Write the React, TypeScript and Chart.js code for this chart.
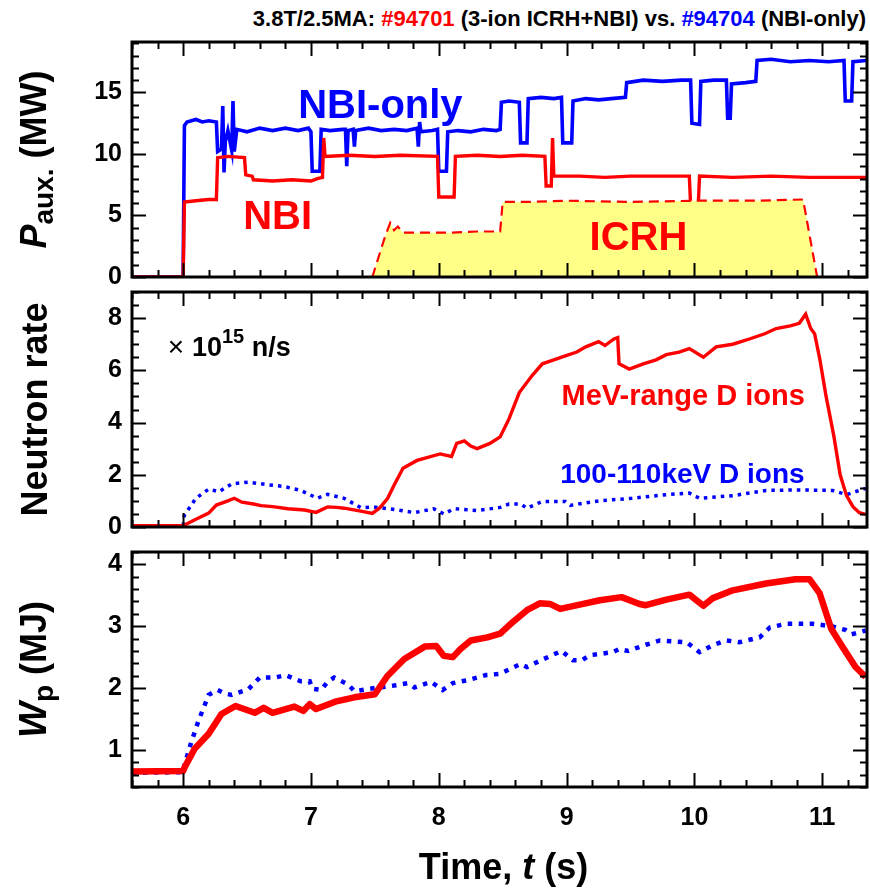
import React, { useEffect, useRef } from 'react';
import { Chart, registerables } from 'chart.js';

Chart.register(...registerables);

const FONT = '"Liberation Sans", Arial, Helvetica, sans-serif';
const RED = '#ff0000';
const BLUE = '#0000ff';
const YELLOW = '#ffff88';

const T_MIN = 5.6;
const T_MAX = 11.35;
const timeTickLabels = [6, 7, 8, 9, 10, 11];

// ---------- Top panel: auxiliary power (MW) ----------
const pauxTickLabels = [0, 5, 10, 15];
const nbiOnlyT = [5.6, 6.0, 6.01, 6.03, 6.1, 6.15, 6.2, 6.26, 6.27, 6.3, 6.31, 6.32, 6.33, 6.35, 6.38, 6.39, 6.4, 6.42, 6.5, 6.6, 6.7, 6.8, 6.9, 6.98, 7.0, 7.01, 7.07, 7.08, 7.15, 7.25, 7.27, 7.28, 7.29, 7.33, 7.34, 7.35, 7.45, 7.55, 7.65, 7.75, 7.83, 7.84, 7.85, 7.86, 7.95, 7.99, 8.0, 8.06, 8.07, 8.15, 8.25, 8.35, 8.45, 8.48, 8.49, 8.55, 8.63, 8.64, 8.69, 8.7, 8.8, 8.9, 8.96, 8.97, 9.04, 9.05, 9.15, 9.25, 9.35, 9.46, 9.47, 9.6, 9.75, 9.9, 9.97, 9.98, 10.04, 10.05, 10.15, 10.25, 10.26, 10.28, 10.29, 10.4, 10.48, 10.49, 10.6, 10.75, 10.9, 11.05, 11.17, 11.18, 11.23, 11.24, 11.35];
const nbiOnlyP = [0, 0, 12.3, 12.6, 12.8, 12.6, 12.7, 12.6, 10.2, 10.4, 13.9, 8.5, 11.0, 11.9, 10.3, 14.3, 10.2, 12.0, 11.8, 12.1, 11.9, 12.1, 11.9, 12.1, 11.8, 8.6, 8.6, 12.0, 11.9, 12.0, 12.0, 9.0, 11.9, 12.0, 10.6, 11.9, 12.1, 11.9, 12.0, 11.9, 12.1, 10.6, 12.6, 11.8, 11.9, 12.0, 8.6, 8.6, 11.8, 11.9, 11.8, 12.0, 11.9, 12.0, 14.2, 14.3, 14.2, 10.9, 10.9, 14.5, 14.6, 14.5, 14.6, 10.9, 10.9, 14.3, 14.5, 14.4, 14.5, 14.6, 15.8, 16.0, 15.9, 16.0, 16.0, 12.5, 12.4, 15.9, 16.0, 16.0, 12.9, 12.9, 15.7, 15.8, 15.9, 17.6, 17.7, 17.5, 17.6, 17.5, 17.6, 14.3, 14.3, 17.5, 17.6];

const nbiT = [5.6, 6.0, 6.01, 6.1, 6.2, 6.26, 6.27, 6.35, 6.48, 6.49, 6.54, 6.55, 6.7, 6.85, 7.0, 7.05, 7.09, 7.1, 7.11, 7.3, 7.5, 7.7, 7.99, 8.0, 8.12, 8.13, 8.3, 8.48, 8.65, 8.83, 8.84, 8.88, 8.89, 8.9, 9.1, 9.3, 9.5, 9.7, 9.96, 9.97, 10.03, 10.04, 10.3, 10.6, 10.9, 11.35];
const nbiP = [0, 0, 6.1, 6.2, 6.3, 6.3, 9.7, 9.8, 9.7, 8.3, 8.2, 7.9, 7.8, 7.9, 7.8, 8.0, 8.1, 11.3, 9.8, 9.9, 9.8, 9.9, 9.8, 6.5, 6.5, 9.8, 9.9, 9.8, 9.9, 9.8, 7.4, 7.4, 11.3, 8.2, 8.2, 8.1, 8.2, 8.2, 8.2, 5.9, 5.9, 8.2, 8.1, 8.2, 8.1, 8.1];

const icrhT = [5.6, 7.48, 7.58, 7.62, 7.65, 7.68, 7.72, 7.9, 8.1, 8.3, 8.48, 8.5, 8.7, 9.0, 9.5, 10.0, 10.5, 10.85, 10.96, 11.35];
const icrhP = [0, 0, 3.3, 4.4, 3.8, 4.1, 3.6, 3.6, 3.6, 3.7, 3.7, 6.1, 6.1, 6.2, 6.1, 6.2, 6.2, 6.3, 0, 0];

// ---------- Middle panel: neutron rate (1e15 n/s) ----------
const neutronTickLabels = [0, 2, 4, 6, 8];
const mevT = [5.6, 6.0, 6.1, 6.2, 6.26, 6.35, 6.4, 6.46, 6.55, 6.61, 6.7, 6.82, 6.95, 7.04, 7.13, 7.2, 7.26, 7.4, 7.48, 7.54, 7.6, 7.65, 7.72, 7.83, 7.9, 8.01, 8.1, 8.14, 8.2, 8.25, 8.3, 8.4, 8.48, 8.55, 8.63, 8.73, 8.81, 8.9, 8.99, 9.08, 9.15, 9.25, 9.3, 9.37, 9.4, 9.41, 9.49, 9.6, 9.7, 9.78, 9.88, 9.96, 10.07, 10.17, 10.3, 10.43, 10.55, 10.64, 10.75, 10.82, 10.87, 10.91, 10.94, 10.98, 11.03, 11.09, 11.14, 11.19, 11.24, 11.29, 11.34];
const mevN = [0.05, 0.05, 0.3, 0.53, 0.84, 1.0, 1.1, 0.95, 0.88, 0.82, 0.78, 0.7, 0.65, 0.56, 0.77, 0.75, 0.72, 0.6, 0.52, 0.74, 1.1, 1.6, 2.25, 2.55, 2.65, 2.8, 2.7, 3.2, 3.3, 3.1, 3.0, 3.2, 3.45, 4.15, 5.15, 5.8, 6.25, 6.4, 6.55, 6.7, 6.9, 7.1, 6.95, 7.2, 7.25, 6.25, 6.05, 6.25, 6.4, 6.6, 6.7, 6.83, 6.5, 6.9, 7.0, 7.2, 7.4, 7.6, 7.7, 7.8, 8.15, 7.6, 7.4, 6.45, 5.0, 3.5, 2.0, 1.2, 0.78, 0.55, 0.48];

const kevT = [5.6, 6.0, 6.01, 6.1, 6.2, 6.28, 6.38, 6.51, 6.66, 6.79, 6.92, 7.05, 7.13, 7.26, 7.39, 7.49, 7.65, 7.81, 7.96, 8.04, 8.12, 8.3, 8.48, 8.55, 8.64, 8.69, 8.81, 8.99, 9.03, 9.25, 9.51, 9.78, 9.96, 10.04, 10.3, 10.56, 10.82, 11.08, 11.19, 11.34];
const kevN = [0.05, 0.05, 0.45, 1.1, 1.45, 1.35, 1.65, 1.72, 1.62, 1.55, 1.4, 1.1, 1.25, 1.1, 0.74, 0.77, 0.67, 0.55, 0.7, 0.5, 0.7, 0.63, 0.75, 0.88, 0.88, 0.72, 0.98, 0.98, 0.83, 1.0, 1.1, 1.24, 1.3, 1.1, 1.2, 1.4, 1.42, 1.4, 1.24, 1.48];

// ---------- Bottom panel: stored energy Wp (MJ) ----------
const wpTickLabels = [1, 2, 3, 4];
const wp3ionT = [5.6, 6.0, 6.01, 6.09, 6.2, 6.3, 6.41, 6.56, 6.63, 6.7, 6.87, 6.94, 6.99, 7.04, 7.19, 7.34, 7.5, 7.6, 7.73, 7.89, 7.98, 8.04, 8.11, 8.17, 8.25, 8.38, 8.48, 8.58, 8.69, 8.79, 8.87, 8.95, 9.13, 9.26, 9.43, 9.57, 9.62, 9.78, 9.96, 10.07, 10.14, 10.3, 10.56, 10.79, 10.9, 10.98, 11.07, 11.16, 11.26, 11.34];
const wp3ionW = [0.65, 0.66, 0.71, 1.02, 1.26, 1.58, 1.71, 1.6, 1.68, 1.6, 1.7, 1.63, 1.74, 1.66, 1.78, 1.85, 1.9, 2.2, 2.47, 2.67, 2.68, 2.52, 2.5, 2.63, 2.77, 2.82, 2.88, 3.07, 3.26, 3.37, 3.36, 3.28, 3.36, 3.42, 3.47, 3.36, 3.34, 3.43, 3.51, 3.33, 3.45, 3.58, 3.69, 3.76, 3.76, 3.53, 2.96, 2.66, 2.34, 2.18];

const wpNbiT = [5.6, 6.0, 6.01, 6.06, 6.12, 6.2, 6.27, 6.33, 6.38, 6.51, 6.6, 6.72, 6.8, 6.92, 6.99, 7.01, 7.08, 7.13, 7.18, 7.29, 7.34, 7.5, 7.65, 7.76, 7.81, 7.94, 8.03, 8.11, 8.23, 8.37, 8.48, 8.64, 8.69, 8.79, 8.96, 9.05, 9.12, 9.18, 9.36, 9.41, 9.48, 9.62, 9.73, 9.94, 10.04, 10.14, 10.25, 10.35, 10.51, 10.59, 10.72, 10.92, 11.07, 11.18, 11.23, 11.34];
const wpNbiW = [0.63, 0.64, 0.75, 1.1, 1.47, 1.89, 1.97, 1.91, 1.89, 1.98, 2.17, 2.17, 2.21, 2.11, 2.11, 1.99, 1.97, 2.1, 2.17, 2.06, 1.95, 2.0, 2.04, 2.08, 2.01, 2.1, 1.97, 2.08, 2.13, 2.21, 2.23, 2.39, 2.34, 2.44, 2.6, 2.45, 2.45, 2.53, 2.58, 2.63, 2.6, 2.7, 2.77, 2.74, 2.58, 2.69, 2.77, 2.74, 2.82, 2.98, 3.04, 3.04, 3.0, 2.94, 2.87, 2.93];

// ---------- helpers ----------
type Seg = { text: string; size: number; bold?: boolean; italic?: boolean; color?: string; dy?: number; family?: string };
type Note = { t: number; v: number; segs: Seg[]; align?: 'left' | 'center' };

const fontOf = (s: Seg) => `${s.italic ? 'italic ' : ''}${s.bold === false ? '' : 'bold '}${s.size}px ${s.family || FONT}`;

function drawRich(ctx: CanvasRenderingContext2D, segs: Seg[], x: number, y: number, align: 'left' | 'center', rotate: boolean) {
  ctx.save();
  ctx.translate(x, y);
  if (rotate) ctx.rotate(-Math.PI / 2);
  ctx.textBaseline = 'alphabetic';
  ctx.textAlign = 'left';
  let total = 0;
  const widths = segs.map((s) => {
    ctx.font = fontOf(s);
    const w = ctx.measureText(s.text).width;
    total += w;
    return w;
  });
  let cx = align === 'center' ? -total / 2 : 0;
  segs.forEach((s, i) => {
    ctx.font = fontOf(s);
    ctx.fillStyle = s.color || '#000';
    ctx.fillText(s.text, cx, s.dy || 0);
    cx += widths[i];
  });
  ctx.restore();
}

function line(ctx: CanvasRenderingContext2D, x1: number, y1: number, x2: number, y2: number) {
  ctx.beginPath();
  ctx.moveTo(x1, y1);
  ctx.lineTo(x2, y2);
  ctx.stroke();
}

const pts = (ts: number[], vs: number[]) => ts.map((t, i) => ({ x: t, y: vs[i] }));

interface PanelSpec {
  top: number;
  height: number;
  padTop: number;
  padBottom: number;
  yMin: number;
  yMax: number;
  yLabels: number[];
  yMinorStep: number;
  yMajorStep: number;
  datasets: any[];
  notes: Note[];
  yTitle: Seg[];
  yTitleX: number;
  showX: boolean;
}

function makePlugin(spec: PanelSpec) {
  return {
    id: 'frameAndText',
    afterDatasetsDraw(chart: any) {
      const ctx: CanvasRenderingContext2D = chart.ctx;
      const { left, right, top, bottom } = chart.chartArea;
      const xs = chart.scales.x;
      const ys = chart.scales.y;
      ctx.save();
      ctx.strokeStyle = '#000';
      ctx.lineWidth = 2;
      const nX = Math.round((T_MAX - T_MIN) / 0.2);
      for (let i = 0; i <= nX; i++) {
        const v = +(T_MIN + i * 0.2).toFixed(3);
        if (v > T_MAX) break;
        const major = Math.abs(v - Math.round(v)) < 1e-6;
        const len = major ? 14 : 7;
        const px = Math.round(xs.getPixelForValue(v)) + 0.5;
        line(ctx, px, bottom, px, bottom - len);
        line(ctx, px, top, px, top + len);
      }
      const nY = Math.round((spec.yMax - spec.yMin) / spec.yMinorStep);
      for (let i = 0; i <= nY; i++) {
        const v = +(spec.yMin + i * spec.yMinorStep).toFixed(3);
        const r = v / spec.yMajorStep;
        const major = Math.abs(r - Math.round(r)) < 1e-6;
        const len = major ? 14 : 7;
        const py = Math.round(ys.getPixelForValue(v)) + 0.5;
        line(ctx, left, py, left + len, py);
        line(ctx, right, py, right - len, py);
      }
      ctx.lineWidth = 3;
      ctx.strokeRect(left, top, right - left, bottom - top);
      ctx.restore();

      spec.notes.forEach((n) => {
        drawRich(ctx, n.segs, xs.getPixelForValue(n.t), ys.getPixelForValue(n.v), n.align || 'left', false);
      });
      drawRich(ctx, spec.yTitle, spec.yTitleX, (top + bottom) / 2, 'center', true);
      if (spec.showX) {
        drawRich(
          ctx,
          [
            { text: 'Time, ', size: 36 },
            { text: 't', size: 36, italic: true },
            { text: ' (s)', size: 36 },
          ],
          (left + right) / 2 + 4,
          bottom + 92,
          'center',
          false
        );
      }
    },
  };
}

function Panel({ spec }: { spec: PanelSpec }) {
  const ref = useRef<HTMLCanvasElement>(null);
  useEffect(() => {
    if (!ref.current) return;
    const chart = new Chart(ref.current, {
      type: 'line',
      data: { datasets: spec.datasets },
      options: {
        animation: false,
        responsive: false,
        devicePixelRatio: 1,
        parsing: false as any,
        normalized: true,
        layout: { padding: { top: spec.padTop, bottom: spec.padBottom, left: 0, right: 3 } },
        plugins: { legend: { display: false }, tooltip: { enabled: false }, title: { display: false } },
        elements: { point: { radius: 0 }, line: { tension: 0 } },
        scales: {
          x: {
            type: 'linear',
            min: T_MIN,
            max: T_MAX,
            display: spec.showX,
            grid: { display: false, drawTicks: false },
            border: { display: false },
            ticks: {
              color: '#000',
              font: { family: FONT, size: 25, weight: 'bold' },
              padding: 16,
              autoSkip: false,
              maxRotation: 0,
            },
            afterBuildTicks: (s: any) => {
              s.ticks = timeTickLabels.map((v) => ({ value: v }));
            },
            afterFit: (s: any) => {
              s.height = spec.showX ? 105 : 0;
              s.paddingLeft = 0;
              s.paddingRight = 0;
              s.paddingTop = 0;
              s.paddingBottom = 0;
            },
          },
          y: {
            type: 'linear',
            min: spec.yMin,
            max: spec.yMax,
            grid: { display: false, drawTicks: false },
            border: { display: false },
            ticks: {
              color: '#000',
              font: { family: FONT, size: 25, weight: 'bold' },
              padding: 10,
              autoSkip: false,
            },
            afterBuildTicks: (s: any) => {
              s.ticks = spec.yLabels.map((v) => ({ value: v }));
            },
            afterFit: (s: any) => {
              s.width = 132;
              s.paddingTop = 0;
              s.paddingBottom = 0;
              s.paddingLeft = 0;
              s.paddingRight = 0;
            },
          },
        } as any,
      },
      plugins: [makePlugin(spec) as any],
    });
    return () => chart.destroy();
  }, [spec]);
  return (
    <canvas
      ref={ref}
      width={870}
      height={spec.height}
      style={{ position: 'absolute', left: 0, top: spec.top, width: 870, height: spec.height }}
    />
  );
}

const topSpec: PanelSpec = {
  top: 32,
  height: 255,
  padTop: 10,
  padBottom: 10,
  yMin: 0,
  yMax: 19.1,
  yLabels: pauxTickLabels,
  yMinorStep: 1,
  yMajorStep: 5,
  showX: false,
  yTitleX: 46,
  yTitle: [
    { text: 'P', size: 36, italic: true },
    { text: 'aux.', size: 28, dy: 7 },
    { text: ' (MW)', size: 36 },
  ],
  datasets: [
    {
      data: pts(icrhT, icrhP),
      borderColor: RED,
      borderWidth: 2.2,
      borderDash: [10, 6],
      backgroundColor: YELLOW,
      fill: 'origin',
    },
    { data: pts(nbiT, nbiP), borderColor: RED, borderWidth: 3.4, fill: false },
    { data: pts(nbiOnlyT, nbiOnlyP), borderColor: BLUE, borderWidth: 3.6, fill: false },
  ],
  notes: [
    { t: 6.9, v: 12.96, segs: [{ text: 'NBI-only', size: 40, color: BLUE }] },
    { t: 6.47, v: 3.91, segs: [{ text: 'NBI', size: 40, color: RED }] },
    { t: 9.18, v: 2.2, segs: [{ text: 'ICRH', size: 40, color: RED }] },
  ],
};

const midSpec: PanelSpec = {
  top: 282,
  height: 255,
  padTop: 10,
  padBottom: 10,
  yMin: 0,
  yMax: 9,
  yLabels: neutronTickLabels,
  yMinorStep: 0.5,
  yMajorStep: 2,
  showX: false,
  yTitleX: 47,
  yTitle: [{ text: 'Neutron rate', size: 36 }],
  datasets: [
    { data: pts(mevT, mevN), borderColor: RED, borderWidth: 3.4, fill: false },
    { data: pts(kevT, kevN), borderColor: BLUE, borderWidth: 3.5, borderDash: [3.5, 5], fill: false },
  ],
  notes: [
    {
      t: 5.88,
      v: 6.56,
      segs: [
        { text: '\u00d7 ', size: 28, bold: false },
        { text: '10', size: 27 },
        { text: '15', size: 20, dy: -13 },
        { text: ' n/s', size: 27 },
      ],
    },
    { t: 8.96, v: 4.66, segs: [{ text: 'MeV-range D ions', size: 29, color: RED }] },
    { t: 8.95, v: 1.68, segs: [{ text: '100-110keV D ions', size: 28, color: BLUE }] },
  ],
};

const botSpec: PanelSpec = {
  top: 542,
  height: 350,
  padTop: 10,
  padBottom: 0,
  yMin: 0.4,
  yMax: 4.2,
  yLabels: wpTickLabels,
  yMinorStep: 0.2,
  yMajorStep: 1,
  showX: true,
  yTitleX: 46,
  yTitle: [
    { text: 'W', size: 38, italic: true },
    { text: 'p', size: 28, dy: 7 },
    { text: ' (MJ)', size: 36 },
  ],
  datasets: [
    { data: pts(wp3ionT, wp3ionW), borderColor: RED, borderWidth: 6.5, fill: false, borderJoinStyle: 'round' },
    { data: pts(wpNbiT, wpNbiW), borderColor: BLUE, borderWidth: 4.5, borderDash: [4.5, 6.5], fill: false },
  ],
  notes: [],
};

export default function App() {
  return (
    <div style={{ position: 'absolute', left: 0, top: 0, width: 870, height: 892, background: '#fff', overflow: 'hidden' }}>
      <div
        style={{
          position: 'absolute',
          left: 0,
          top: 7,
          width: 866,
          textAlign: 'right',
          font: `bold 22px ${FONT}`,
          lineHeight: '24px',
          color: '#000',
          whiteSpace: 'nowrap',
        }}
      >
        3.8T/2.5MA: <span style={{ color: RED }}>#94701</span> (3-ion ICRH+NBI) vs.{' '}
        <span style={{ color: BLUE }}>#94704</span> (NBI-only)
      </div>
      <Panel spec={topSpec} />
      <Panel spec={midSpec} />
      <Panel spec={botSpec} />
    </div>
  );
}
